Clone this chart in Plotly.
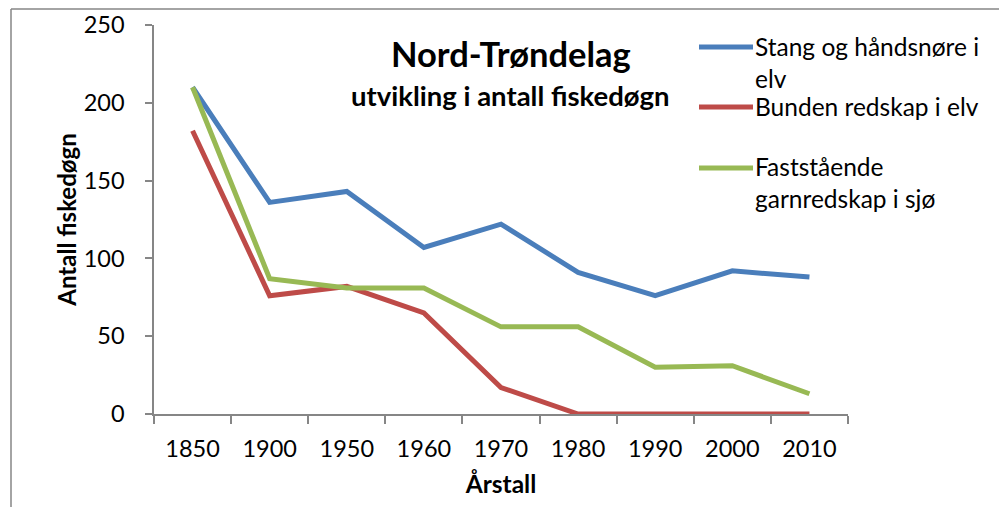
import plotly.graph_objects as go

years = ["1850", "1900", "1950", "1960", "1970", "1980", "1990", "2000", "2010"]
stang = [210, 136, 143, 107, 122, 91, 76, 92, 88]
bunden = [182, 76, 82, 65, 17, 0, 0, 0, 0]
fast = [210, 87, 81, 81, 56, 56, 30, 31, 13]

series_names = ["Stang og håndsnøre i<br>elv", "Bunden redskap i elv", "Faststående<br>garnredskap i sjø"]
series_vals = [stang, bunden, fast]
colors = ["#4A7EBB", "#BE4B48", "#98B954"]

W, H = 999, 507
L, R, T, B = 154, 848, 25, 414

def px(x):
    return (x - L) / (R - L)

def py(y):
    return (B - y) / (B - T)

fig = go.Figure()
for name, vals, c in zip(series_names, series_vals, colors):
    fig.add_trace(go.Scatter(x=years, y=vals, mode="lines", name=name,
                             line=dict(color=c, width=5), showlegend=False))

axis_gray = "#868686"
tickfont = dict(family="Lato", size=23.5, color="black")

fig.update_layout(
    width=W, height=H,
    margin=dict(l=L, r=W - R, t=T, b=H - B, pad=0, autoexpand=False),
    paper_bgcolor="white", plot_bgcolor="white",
    font=dict(family="Lato", color="black"),
    xaxis=dict(type="category", range=[-0.5, 8.5], showgrid=False, zeroline=False,
               automargin=False,
               showline=True, linecolor=axis_gray, linewidth=1.5,
               ticks="outside", tickson="boundaries", ticklen=8, tickcolor=axis_gray,
               tickwidth=1.5, tickfont=tickfont, ticklabelstandoff=13,
               title=dict(text="<b>Årstall</b>", font=dict(family="Lato", size=24.5), standoff=15)),
    yaxis=dict(range=[0, 250], dtick=50, showgrid=False, zeroline=False,
               automargin=False,
               showline=True, linecolor=axis_gray, linewidth=1.5,
               ticks="outside", ticklen=7, tickcolor=axis_gray, tickwidth=1.5,
               tickfont=tickfont, ticklabelstandoff=16,
               title=dict(text="<b>Antall fiskedøgn</b>", font=dict(family="Lato", size=24), standoff=0)),
)

# chart frame
fig.add_shape(type="line", xref="paper", yref="paper", x0=px(11), x1=px(1005), y0=py(9), y1=py(9),
              line=dict(color=axis_gray, width=1.5))
fig.add_shape(type="line", xref="paper", yref="paper", x0=px(11), x1=px(11), y0=py(9), y1=py(515),
              line=dict(color=axis_gray, width=1.5))

# titles
fig.add_annotation(text="<b>Nord-Trøndelag</b>", xref="paper", yref="paper", x=px(511), y=py(53),
                   xanchor="center", yanchor="middle", showarrow=False,
                   font=dict(family="Lato", size=34.5, color="black"))
fig.add_annotation(text="<b>utvikling i antall fiskedøgn</b>", xref="paper", yref="paper", x=px(510), y=py(95),
                   xanchor="center", yanchor="middle", showarrow=False,
                   font=dict(family="Lato", size=27.5, color="black"))

# legend
legend_y = [62, 107, 182]
sample_y = [47, 107, 168]
for name, c, ly, sy in zip(series_names, colors, legend_y, sample_y):
    fig.add_shape(type="line", xref="paper", yref="paper", x0=px(699), x1=px(753), y0=py(sy), y1=py(sy),
                  line=dict(color=c, width=5))
    fig.add_annotation(text=name, xref="paper", yref="paper", x=px(753), y=py(ly),
                       xanchor="left", yanchor="middle", align="left", showarrow=False,
                       font=dict(family="Lato", size=24.5, color="black"))

fig.write_html("out.html", config={"displayModeBar": False},
               post_script="document.body.style.margin='0';document.body.style.overflow='hidden';")
